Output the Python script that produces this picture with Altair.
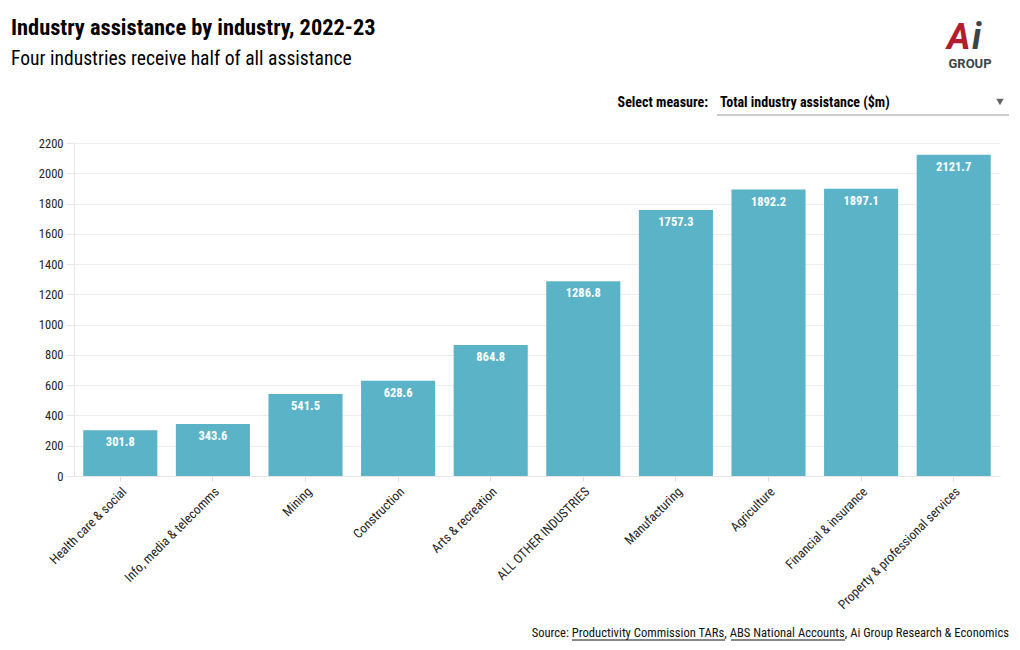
import altair as alt
import pandas as pd

industries = ["Health care & social", "Info, media & telecomms", "Mining", "Construction",
              "Arts & recreation", "ALL OTHER INDUSTRIES", "Manufacturing", "Agriculture",
              "Financial & insurance", "Property & professional services"]
values = [301.8, 343.6, 541.5, 628.6, 864.8, 1286.8, 1757.3, 1892.2, 1897.1, 2121.7]
y_ticks = list(range(0, 2201, 200))

FONT = "Roboto Condensed, Liberation Sans Narrow, Roboto, sans-serif"
BAR = "#5bb3c8"

df = pd.DataFrame({"industry": industries, "value": values})
df["label"] = [f"{v:.1f}" for v in values]

W, H = 926, 333
PL, PT = 66, 135

x = alt.X("industry:N", sort=industries, title=None,
          scale=alt.Scale(paddingInner=0.2, paddingOuter=0.1),
          axis=alt.Axis(labelAngle=-45, labelAlign="right", labelBaseline="top",
                        labelFontSize=13, labelColor="#222", labelFont=FONT,
                        tickColor="#ddd", tickSize=5, domainColor="#e6e6e6",
                        labelPadding=4, grid=False, labelOverlap=False))
y = alt.Y("value:Q", title=None,
          scale=alt.Scale(domain=[0, 2200], nice=False),
          axis=alt.Axis(values=y_ticks, format="d", labelOverlap=False, tickCount=12,
                        labelFontSize=12.5, labelColor="#222", labelFont=FONT,
                        gridColor="#eeeeee", tickColor="#e6e6e6", tickSize=8,
                        domainColor="#e6e6e6", labelPadding=3))

bars = alt.Chart(df).mark_bar(color=BAR).encode(x=x, y=y)
labels = alt.Chart(df).mark_text(color="white", fontWeight="bold", fontSize=12.5,
                                 font=FONT, baseline="top", dy=6).encode(
    x=x, y=y, text="label:N")

def txt(s, px, py, size, weight="normal", color="#000", align="left", style="normal", font=FONT):
    d = pd.DataFrame({"t": [s]})
    return alt.Chart(d).mark_text(fontSize=size, fontWeight=weight, color=color, align=align,
                                  baseline="alphabetic", font=font, fontStyle=style).encode(
        x=alt.value(px - 74), y=alt.value(py - 143), text="t:N")

def rule(x1, x2, yy, color="#000", w=1):
    d = pd.DataFrame({"a": [0]})
    return alt.Chart(d).mark_rule(color=color, strokeWidth=w).encode(
        x=alt.value(x1 - 74), x2=alt.value(x2 - 74), y=alt.value(yy - 143))

tri = alt.Chart(pd.DataFrame({"a": [0]})).mark_point(
    shape="triangle-down", filled=True, color="#222", size=55).encode(
    x=alt.value(1000 - 74), y=alt.value(102 - 143))

layers = [
    bars, labels,
    txt("Industry assistance by industry, 2022-23", 11, 35, 22.4, "bold"),
    txt("Four industries receive half of all assistance", 11, 65, 19.6),
    txt("Select measure:", 708, 107, 14, "bold", align="right"),
    txt("Total industry assistance ($m)", 720, 107, 14, "bold"),
    rule(717, 1009, 115, "#999"),
    tri,
    txt("A", 947, 49, 36, "bold", "#b31b2f", style="italic", font="Roboto, sans-serif"),
    txt("i", 972, 49, 36, "bold", "#3b4449", style="italic", font="Roboto, sans-serif"),
    txt("GROUP", 970, 68, 13, "bold", "#3b4449", align="center", font="Roboto, sans-serif"),
    txt("Source: Productivity Commission TARs, ABS National Accounts, Ai Group Research & Economics",
        1009, 637, 12.6, align="right", color="#111"),
    rule(572, 725, 640, "#111"),
    rule(731, 845, 640, "#111"),
]

chart = alt.layer(*layers).properties(
    width=W, height=H,
    autosize=alt.AutoSizeParams(type="none"),
    padding={"left": PL, "top": PT, "right": 1004 - PL - W, "bottom": 634 - PT - H},
    background="white",
).configure_view(stroke=None)

chart.save("out.html", embed_options={"renderer": "svg", "actions": False})
